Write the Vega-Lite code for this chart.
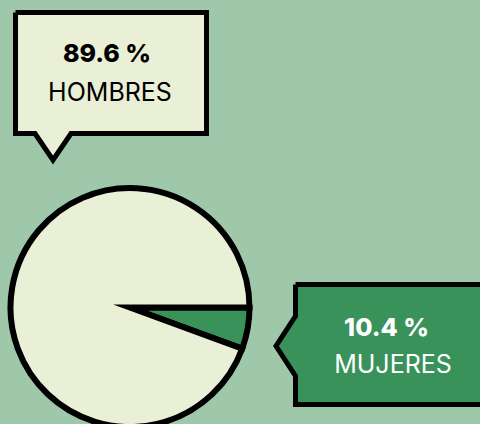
{
  "$schema": "https://vega.github.io/schema/vega-lite/v6.json",
  "autosize": {"type": "fit", "contains": "padding"},
  "width": 480,
  "height": 424,
  "padding": 0,
  "background": "#9ec8a9",
  "config": {"view": {"stroke": null}},
  "datasets": {
    "pie": [
      {"genero": "MUJERES", "porcion": 5.6, "orden": 1, "cx": 130, "cy": 307.5},
      {"genero": "HOMBRES", "porcion": 94.4, "orden": 2, "cx": 130, "cy": 307.5}
    ],
    "cajaH": [
      {"i": 1, "x": 15.5, "y": 12.5},
      {"i": 2, "x": 206.5, "y": 12.5},
      {"i": 3, "x": 206.5, "y": 133.5},
      {"i": 4, "x": 71, "y": 133.5},
      {"i": 5, "x": 53, "y": 160},
      {"i": 6, "x": 35, "y": 133.5},
      {"i": 7, "x": 15.5, "y": 133.5},
      {"i": 8, "x": 15.5, "y": 12.5}
    ],
    "cajaM": [
      {"i": 1, "x": 295.5, "y": 284.5},
      {"i": 2, "x": 495, "y": 284.5},
      {"i": 3, "x": 495, "y": 404.5},
      {"i": 4, "x": 295.5, "y": 404.5},
      {"i": 5, "x": 295.5, "y": 376},
      {"i": 6, "x": 276, "y": 346},
      {"i": 7, "x": 295.5, "y": 316},
      {"i": 8, "x": 295.5, "y": 284.5}
    ],
    "textos": [
      {"t": "89.6 %", "x": 107, "y": 61.5, "tipo": "valor", "col": "black"},
      {"t": "HOMBRES", "x": 110, "y": 101, "tipo": "nombre", "col": "black"},
      {"t": "10.4 %", "x": 386.5, "y": 335.5, "tipo": "valor", "col": "white"},
      {"t": "MUJERES", "x": 393, "y": 373, "tipo": "nombre", "col": "white"}
    ]
  },
  "encoding": {
    "x": {"field": "x", "type": "quantitative", "scale": {"domain": [0, 480], "nice": false, "zero": false}, "axis": null},
    "y": {"field": "y", "type": "quantitative", "scale": {"domain": [0, 424], "nice": false, "zero": false, "reverse": true}, "axis": null}
  },
  "layer": [
    {
      "data": {"name": "pie"},
      "mark": {"type": "arc", "outerRadius": 119.5, "stroke": "black", "strokeWidth": 6, "strokeJoin": "miter", "strokeMiterLimit": 10, "clip": true},
      "encoding": {
        "x": {"field": "cx", "type": "quantitative", "scale": {"domain": [0, 480], "nice": false, "zero": false}, "axis": null},
        "y": {"field": "cy", "type": "quantitative", "scale": {"domain": [0, 424], "nice": false, "zero": false, "reverse": true}, "axis": null},
        "theta": {"field": "porcion", "type": "quantitative", "stack": true, "scale": {"range": [1.5708, 7.8540]}},
        "order": {"field": "orden", "type": "quantitative"},
        "color": {"field": "genero", "type": "nominal", "scale": {"domain": ["MUJERES", "HOMBRES"], "range": ["#38925a", "#eaf0d6"]}, "legend": null}
      }
    },
    {
      "data": {"name": "cajaH"},
      "mark": {"type": "line", "fill": "#eaf0d6", "stroke": "black", "strokeWidth": 5, "strokeJoin": "miter", "clip": true},
      "encoding": {"order": {"field": "i", "type": "quantitative"}}
    },
    {
      "data": {"name": "cajaM"},
      "mark": {"type": "line", "fill": "#38925a", "stroke": "black", "strokeWidth": 5, "strokeJoin": "miter", "clip": true},
      "encoding": {"order": {"field": "i", "type": "quantitative"}}
    },
    {
      "data": {"name": "textos"},
      "transform": [{"filter": "datum.tipo === 'valor'"}],
      "mark": {"type": "text", "font": "Inter", "fontSize": 25, "fontWeight": 800, "align": "center", "baseline": "alphabetic"},
      "encoding": {
        "text": {"field": "t"},
        "color": {"field": "col", "type": "nominal", "scale": null}
      }
    },
    {
      "data": {"name": "textos"},
      "transform": [{"filter": "datum.tipo === 'nombre'"}],
      "mark": {"type": "text", "font": "Inter", "fontSize": 25, "fontWeight": 400, "align": "center", "baseline": "alphabetic"},
      "encoding": {
        "text": {"field": "t"},
        "color": {"field": "col", "type": "nominal", "scale": null}
      }
    }
  ]
}
